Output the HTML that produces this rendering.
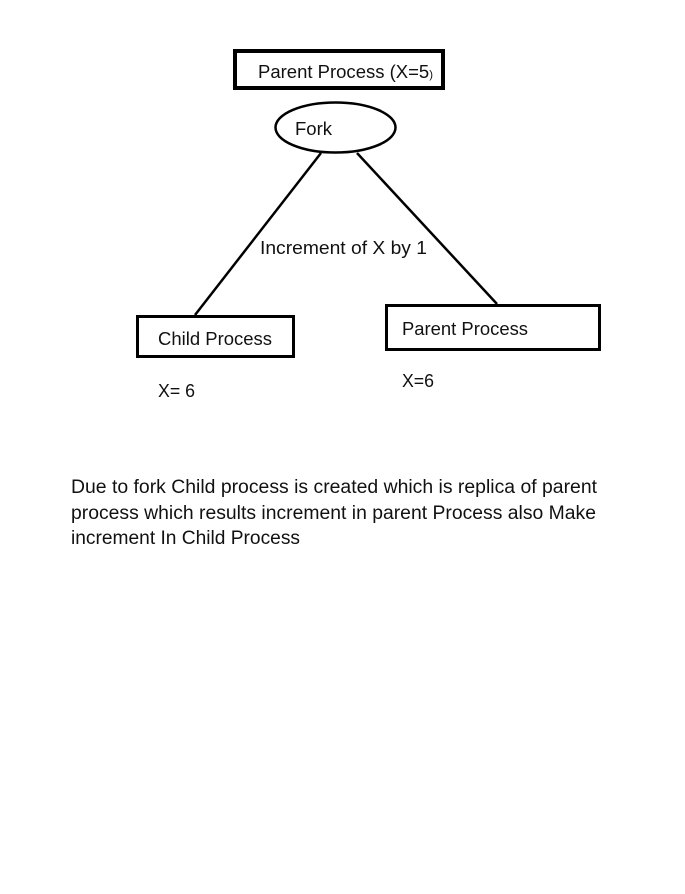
<!DOCTYPE html>
<html><head><style>
body{margin:0;width:685px;height:889px;background:#fff;overflow:hidden}
svg text{font-family:"Liberation Sans",sans-serif;fill:#111}
</style></head><body>
<svg width="685" height="889" xmlns="http://www.w3.org/2000/svg">
<rect x="235" y="51" width="208" height="37" fill="none" stroke="#000" stroke-width="4"/>
<text x="258" y="78" font-size="18" textLength="175" lengthAdjust="spacingAndGlyphs">Parent Process (X=5<tspan font-size="11">)</tspan></text>
<ellipse cx="335.5" cy="127.5" rx="60" ry="25" fill="none" stroke="#000" stroke-width="2.5"/>
<text x="295" y="135" font-size="18" textLength="37" lengthAdjust="spacingAndGlyphs">Fork</text>
<line x1="321" y1="153" x2="195" y2="315" stroke="#000" stroke-width="2.5"/>
<line x1="357" y1="153" x2="497" y2="304" stroke="#000" stroke-width="2.5"/>
<text x="260" y="254" font-size="18" textLength="167" lengthAdjust="spacingAndGlyphs">Increment of X by 1</text>
<rect x="137.5" y="316.5" width="156" height="40" fill="none" stroke="#000" stroke-width="3"/>
<text x="158" y="345" font-size="18" textLength="114" lengthAdjust="spacingAndGlyphs">Child Process</text>
<rect x="386.5" y="305.5" width="213" height="44" fill="none" stroke="#000" stroke-width="3"/>
<text x="402" y="335" font-size="18" textLength="126" lengthAdjust="spacingAndGlyphs">Parent Process</text>
<text x="158" y="397" font-size="18" textLength="37" lengthAdjust="spacingAndGlyphs">X= 6</text>
<text x="402" y="387" font-size="18" textLength="32" lengthAdjust="spacingAndGlyphs">X=6</text>
<text x="71" y="493" font-size="19" textLength="526" lengthAdjust="spacingAndGlyphs">Due to fork Child process is created which is replica of parent</text>
<text x="71" y="519" font-size="19" textLength="525" lengthAdjust="spacingAndGlyphs">process which results increment in parent Process also Make</text>
<text x="71" y="544" font-size="19" textLength="229" lengthAdjust="spacingAndGlyphs">increment In Child Process</text>
</svg>
</body></html>
